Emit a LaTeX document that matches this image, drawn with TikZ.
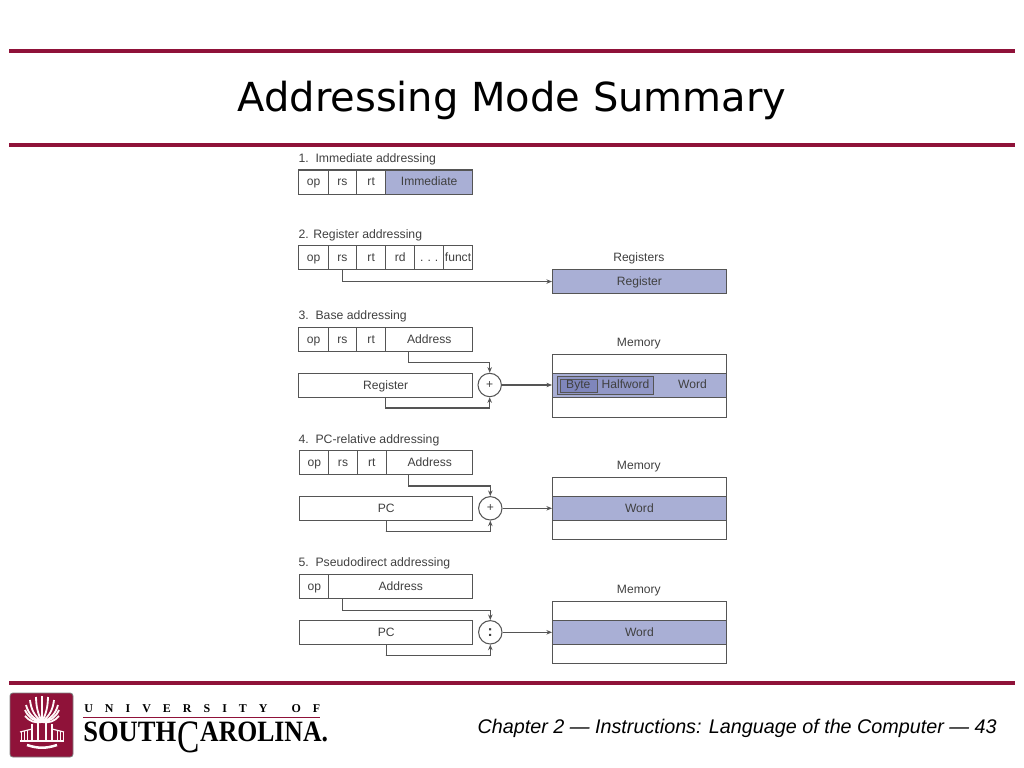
\documentclass[tikz,border=0pt]{standalone}
\usepackage{fontspec}
\setmainfont{Liberation Sans}
\newfontfamily\titlefont{DejaVu Sans}
\newfontfamily\logofont{Liberation Serif}
\usetikzlibrary{arrows.meta}
\definecolor{garnet}{HTML}{8F1239}
\definecolor{wordblue}{HTML}{A9AFD5}
\definecolor{halfblue}{HTML}{9197C6}
\definecolor{byteblue}{HTML}{7F86BC}
\definecolor{ink}{HTML}{404040}
\definecolor{rulegray}{HTML}{555555}
\def\px{0.025cm}
\tikzset{
  bar/.style={draw=garnet,line width=2.4pt},
  cell/.style={draw=rulegray,line width=0.75pt,anchor=north west,inner sep=0pt,text=ink,
    text height=7pt,text depth=1.8pt,
    minimum height=24*\px,font=\fontsize{8.6}{10}\selectfont},
  shaded/.style={cell,fill=wordblue},
  caption/.style={anchor=west,inner sep=0pt,text=ink,text height=7.4pt,text depth=1.8pt,
    font=\fontsize{8.7}{10}\selectfont},
  bank/.style={anchor=center,inner sep=0pt,text=ink,text height=7.4pt,text depth=1.8pt,
    font=\fontsize{8.6}{10}\selectfont},
  adder/.style={circle,draw=rulegray,line width=0.75pt,fill=white,minimum size=23.4*\px,inner sep=0pt,text=ink,
    font=\fontsize{8.6}{10}\selectfont},
  link/.style={draw=rulegray,line width=0.75pt,-{Stealth[length=4pt,width=3.2pt]}},
}
\begin{document}
\begin{tikzpicture}[x=0.025cm,y=-0.025cm]
  \useasboundingbox (0,0) rectangle (1024,768);
  % slide frame
  \coordinate (topa) at (9,51);
  \coordinate (topb) at (1015,51);
  \coordinate (mida) at (9,145);
  \coordinate (midb) at (1015,145);
  \coordinate (lowa) at (9,683);
  \coordinate (lowb) at (1015,683);
  \draw[bar] (topa) -- (topb);
  \draw[bar] (mida) -- (midb);
  \draw[bar] (lowa) -- (lowb);
  \node[text=black,inner sep=0pt,font=\titlefont\fontsize{28.45}{32}\selectfont] (title) at (512,100.5) {Addressing Mode Summary};
  \node[text=black,inner sep=0pt,anchor=east,font=\fontsize{14.05}{16}\selectfont\itshape] (footer) at (997,728)
    {Chapter 2 — Instructions: Language of the Computer — 43};

  % 1. immediate
  \node[caption] (cap1) at (298.3,158.5) {1.\ \ Immediate addressing};
  \node[cell,minimum width=29.4*\px] (op1) at (298.3,169.5) {op};
  \node[cell,minimum width=28.4*\px] (rs1) at (327.7,169.5) {rs};
  \node[cell,minimum width=29.3*\px] (rt1) at (356,169.5) {rt};
  \node[shaded,minimum width=86.7*\px] (imm1) at (385.3,169.5) {Immediate};

  % 2. register
  \node[caption] (cap2) at (298.3,234.5) {2. Register addressing};
  \node[cell,minimum width=29.4*\px] (op2) at (298.3,245.3) {op};
  \node[cell,minimum width=28.4*\px] (rs2) at (327.7,245.3) {rs};
  \node[cell,minimum width=29.3*\px] (rt2) at (356,245.3) {rt};
  \node[cell,minimum width=29*\px] (rd2) at (385.3,245.3) {rd};
  \node[cell,minimum width=28.7*\px] (dots2) at (414.3,245.3) {.\,\,.\,\,.};
  \node[cell,minimum width=29*\px] (funct2) at (443,245.3) {funct};
  \node[bank] (bank2) at (638.8,258) {Registers};
  \node[shaded,minimum width=173.7*\px,minimum height=23.4*\px] (reg2) at (552,269.3) {Register};
  \draw[link] (rs2.south) |- (reg2.west);

  % 3. base
  \node[caption] (cap3) at (298.3,316) {3.\ \ Base addressing};
  \node[cell,minimum width=29.4*\px] (op3) at (298.3,327.3) {op};
  \node[cell,minimum width=28.4*\px] (rs3) at (327.7,327.3) {rs};
  \node[cell,minimum width=29.3*\px] (rt3) at (356,327.3) {rt};
  \node[cell,minimum width=86.7*\px] (addr3) at (385.3,327.3) {Address};
  \node[cell,minimum width=173.7*\px,minimum height=23.4*\px] (base3) at (298.3,373.3) {Register};
  \node[adder] (add3) at (489.7,385) {+};
  \node[bank] (bank3) at (638.8,342.8) {Memory};
  \node[cell,minimum width=173.7*\px,minimum height=63*\px] (mem3) at (552,353.7) {};
  \node[shaded,minimum width=173.7*\px,minimum height=23.4*\px] (word3) at (552,373.3) {};
  \node[cell,fill=halfblue,minimum width=95.4*\px,minimum height=17.7*\px] (half3) at (557.3,376.3) {};
  \node[cell,fill=byteblue,minimum width=36.7*\px,minimum height=12.4*\px] (byte3) at (560,379.3) {};
  \node[bank] (bytetext3) at (578.3,385) {Byte};
  \node[bank] (halftext3) at (625.5,385) {Halfword};
  \node[bank] (wordtext3) at (692.5,385) {Word};
  \coordinate (tap3) at (408.3,351.3);
  \coordinate (knee3) at (408.3,362.3);
  \coordinate (under3) at (385,408);
  \draw[link] (tap3) -- (knee3) -| (add3.north);
  \draw[link] (base3.south) |- (under3) -| (add3.south);
  \draw[link] (add3.east) -- (add3.east -| word3.west);

  % 4. pc-relative
  \node[caption] (cap4) at (298.3,439.5) {4.\ \ PC-relative addressing};
  \node[cell,minimum width=29*\px] (op4) at (299.3,450.3) {op};
  \node[cell,minimum width=28.4*\px] (rs4) at (328.3,450.3) {rs};
  \node[cell,minimum width=29.3*\px] (rt4) at (356.7,450.3) {rt};
  \node[cell,minimum width=86.3*\px] (addr4) at (386,450.3) {Address};
  \node[cell,minimum width=173*\px,minimum height=23.7*\px] (base4) at (299.3,496.3) {PC};
  \node[adder] (add4) at (490.3,508.3) {+};
  \node[bank] (bank4) at (638.8,465.8) {Memory};
  \node[cell,minimum width=173.7*\px,minimum height=62.3*\px] (mem4) at (552,477) {};
  \node[shaded,minimum width=173.7*\px,minimum height=23.7*\px] (word4) at (552,496.3) {Word};
  \coordinate (tap4) at (408.7,474.6);
  \coordinate (knee4) at (408.7,486);
  \coordinate (under4) at (385.8,531.7);
  \draw[link] (tap4) -- (knee4) -| (add4.north);
  \draw[link] (base4.south) |- (under4) -| (add4.south);
  \draw[link] (add4.east) -- (add4.east -| word4.west);

  % 5. pseudodirect
  \node[caption] (cap5) at (298.3,563) {5.\ \ Pseudodirect addressing};
  \node[cell,minimum width=29*\px] (op5) at (299.3,574.3) {op};
  \node[cell,minimum width=144*\px] (addr5) at (328.3,574.3) {Address};
  \node[cell,minimum width=173*\px,minimum height=23.7*\px] (base5) at (299.3,620.3) {PC};
  \node[adder,font=\fontsize{11}{12}\selectfont\bfseries] (add5) at (490.3,632.3) {:};
  \node[bank] (bank5) at (638.8,589.8) {Memory};
  \node[cell,minimum width=173.7*\px,minimum height=62.3*\px] (mem5) at (552,601) {};
  \node[shaded,minimum width=173.7*\px,minimum height=23.7*\px] (word5) at (552,620.3) {Word};
  \coordinate (tap5) at (342.7,598.6);
  \coordinate (knee5) at (342.7,610.3);
  \coordinate (under5) at (385.8,655.7);
  \draw[link] (tap5) -- (knee5) -| (add5.north);
  \draw[link] (base5.south) |- (under5) -| (add5.south);
  \draw[link] (add5.east) -- (add5.east -| word5.west);

  % logo
  \fill[garnet,draw=gray,line width=0.6pt,rounded corners=2pt] (10,693) rectangle (73,757);
  \begin{scope}[draw=white!90!pink,line width=1.3pt]
  \draw (42,722) to[bend left=30] (25,716);
  \draw (42,722) to[bend left=30] (25,710);
  \draw (42,722) to[bend left=28] (26,705);
  \draw (42,722) to[bend left=22] (30,700);
  \draw (42,722) to[bend left=12] (36,697);
  \draw (42,722) -- (42,696);
  \draw (42,722) to[bend right=12] (48,697);
  \draw (42,722) to[bend right=22] (54,700);
  \draw (42,722) to[bend right=28] (58,705);
  \draw (42,722) to[bend right=30] (59,710);
  \draw (42,722) to[bend right=30] (59,716);
  \draw[line width=1.6pt] (38,722) -- (38,741);
  \draw[line width=1.6pt] (46,722) -- (46,741);
  \draw[line width=0.8pt] (32,724) -- (32,741);
  \draw[line width=0.8pt] (52,724) -- (52,741);
  \draw[line width=0.8pt] (20,732) -- (32,729);
  \draw[line width=0.8pt] (64,732) -- (52,729);
  \draw[line width=0.8pt] (20,741) -- (64,741);
  \draw[line width=0.7pt] (21,732) -- (21,741);
  \draw[line width=0.7pt] (24,731) -- (24,741);
  \draw[line width=0.7pt] (27,730) -- (27,741);
  \draw[line width=0.7pt] (57,730) -- (57,741);
  \draw[line width=0.7pt] (60,731) -- (60,741);
  \draw[line width=0.7pt] (63,732) -- (63,741);
  \draw[line width=1.8pt] (27,745) to[bend right=18] (57,745);
  \end{scope}
  \draw[draw=garnet,line width=0.7pt] (83,717) -- (320,717);
  \node[anchor=west,inner sep=0pt,text width=236*\px,text=black,font=\logofont\fontsize{8.5}{10}\selectfont\bfseries] (logoa) at (84,708.5)
    {U\hfill N\hfill I\hfill V\hfill E\hfill R\hfill S\hfill I\hfill T\hfill Y\hfill\hfill O\hfill F};
  \node[anchor=west,inner sep=0pt,xscale=0.9,text=black,font=\logofont\fontsize{21}{22}\selectfont\bfseries] (logob) at (83,732) {SOUTH};
  \node[anchor=west,inner sep=0pt,xscale=0.72,text=black,font=\logofont\fontsize{33}{34}\selectfont] (logoc) at (177,737) {C};
  \node[anchor=west,inner sep=0pt,xscale=0.87,text=black,font=\logofont\fontsize{21}{22}\selectfont\bfseries] (logod) at (200,732) {AROLINA.};
\end{tikzpicture}
\end{document}
